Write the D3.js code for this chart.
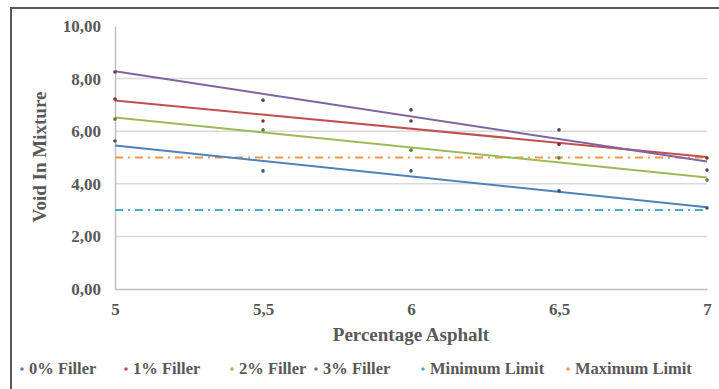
<!DOCTYPE html>
<html>
<head>
<meta charset="utf-8">
<script src="https://cdn.jsdelivr.net/npm/d3@7"></script>
<style>
    body { margin: 0; background: #fff; }
    text { font-family: "Liberation Serif", "Times New Roman", serif; font-weight: bold; }
</style>
</head>
<body>
<div id="chart1"></div>
<script>
var SVGWidth = 719;
var SVGHeight = 389;

// data
var asphalt = [5, 5.5, 6, 6.5, 7];
var filler0 = [5.63, 4.49, 4.49, 3.73, 3.08];
var filler1 = [7.22, 6.39, 6.39, 5.50, 4.98];
var filler2 = [6.46, 6.05, 5.28, 4.98, 4.14];
var filler3 = [8.25, 7.18, 6.81, 6.05, 4.52];
var minimumLimit = [3, 3, 3, 3, 3];
var maximumLimit = [5, 5, 5, 5, 5];

var xTicks = [5, 5.5, 6, 6.5, 7];
var yTicks = [0, 2, 4, 6, 8, 10];

var fillerSeries = [
    { name: "0% Filler", values: filler0, color: "#4F81BD" },
    { name: "1% Filler", values: filler1, color: "#C0504D" },
    { name: "2% Filler", values: filler2, color: "#9BBB59" },
    { name: "3% Filler", values: filler3, color: "#8064A2" }
];
var limitSeries = [
    { name: "Minimum Limit", values: minimumLimit, color: "#4BACC6" },
    { name: "Maximum Limit", values: maximumLimit, color: "#F79646" }
];

/*
 * Least squares line, like the Excel linear trendline.
 */
function linearFit(xs, ys) {
    var mx = d3.mean(xs), my = d3.mean(ys);
    var num = 0, den = 0;
    for (var i = 0; i < xs.length; i++) {
        num += (xs[i] - mx) * (ys[i] - my);
        den += (xs[i] - mx) * (xs[i] - mx);
    }
    var slope = num / den;
    return function(v) { return my + slope * (v - mx); };
}

var svg = d3.select("#chart1")
    .append("svg")
        .attr("width", SVGWidth)
        .attr("height", SVGHeight);

// frame (only top and left edges are visible in the crop)
svg.append("path")
    .attr("d", "M11," + SVGHeight + " L11,8 L" + SVGWidth + ",8")
    .attr("fill", "none")
    .attr("stroke", "#595959")
    .attr("stroke-width", 2);

var x = d3.scaleLinear().domain([5, 7]).range([115, 707]);
var y = d3.scaleLinear().domain([0, 10]).range([289, 26]);

// gridlines
svg.append("g")
    .selectAll("line")
    .data(yTicks.filter(function(d) { return d > 0 && d < 10; }))
    .enter()
    .append("line")
        .attr("x1", x(5))
        .attr("x2", x(7))
        .attr("y1", function(d) { return y(d); })
        .attr("y2", function(d) { return y(d); })
        .attr("stroke", "#d9d9d9")
        .attr("stroke-width", 1.5);

// left axis
var yAxis = svg.append("g")
    .attr("transform", "translate(" + x(5) + ",0)")
    .call(d3.axisLeft(y).tickValues(yTicks).tickSize(0).tickPadding(14)
        .tickFormat(function(d) { return d3.format(".2f")(d).replace(".", ","); }));
yAxis.select(".domain").attr("stroke", "#bfbfbf").attr("stroke-width", 1.5);
yAxis.selectAll("text").attr("fill", "#595959").style("font-size", "17px")
    .style("font-family", "Liberation Serif").style("font-weight", "bold");

// bottom axis
var xAxis = svg.append("g")
    .attr("transform", "translate(0," + y(0) + ")")
    .call(d3.axisBottom(x).tickValues(xTicks).tickSize(0).tickPadding(14)
        .tickFormat(function(d) { return String(d).replace(".", ","); }));
xAxis.select(".domain").attr("stroke", "#bfbfbf").attr("stroke-width", 1.5);
xAxis.selectAll("text").attr("fill", "#595959").style("font-size", "17px")
    .style("font-family", "Liberation Serif").style("font-weight", "bold");

// limit lines
limitSeries.forEach(function(s) {
    svg.append("path")
        .datum(s.values)
        .attr("fill", "none")
        .attr("stroke", s.color)
        .attr("stroke-width", 2)
        .attr("stroke-dasharray", "8,5,2,5")
        .attr("d", d3.line()
            .x(function(d, i) { return x(asphalt[i]); })
            .y(function(d) { return y(d); }));
});

// trendlines and points
fillerSeries.forEach(function(s) {
    var fit = linearFit(asphalt, s.values);
    svg.append("path")
        .datum([5, 7])
        .attr("fill", "none")
        .attr("stroke", s.color)
        .attr("stroke-width", 2)
        .attr("d", d3.line()
            .x(function(d) { return x(d); })
            .y(function(d) { return y(fit(d)); }));
});
fillerSeries.forEach(function(s) {
    svg.append("g")
        .selectAll("circle")
        .data(s.values)
        .enter()
        .append("circle")
            .attr("cx", function(d, i) { return x(asphalt[i]); })
            .attr("cy", function(d) { return y(d); })
            .attr("r", 1.8)
            .attr("fill", d3.color(s.color).darker(1.2));
});

// axis titles
svg.append("text")
    .attr("x", 411)
    .attr("y", 341)
    .attr("text-anchor", "middle")
    .attr("fill", "#595959")
    .style("font-size", "19px")
    .text("Percentage Asphalt");

svg.append("text")
    .attr("transform", "translate(46,157) rotate(-90)")
    .attr("text-anchor", "middle")
    .attr("fill", "#595959")
    .style("font-size", "19px")
    .text("Void In Mixture");

// legend
var legendItems = fillerSeries.concat(limitSeries);
var legendX = [20, 124, 230, 314, 421, 566];
var legend = svg.append("g")
    .selectAll("g")
    .data(legendItems)
    .enter()
    .append("g")
        .attr("transform", function(d, i) { return "translate(" + legendX[i] + ",374)"; });
legend.append("circle")
    .attr("cx", 2)
    .attr("cy", -5)
    .attr("r", 1.8)
    .attr("fill", function(d) { return d.color; });
legend.append("text")
    .attr("x", 9)
    .attr("y", 0)
    .attr("fill", "#595959")
    .style("font-size", "16.5px")
    .text(function(d) { return d.name; });
</script>
</body>
</html>
